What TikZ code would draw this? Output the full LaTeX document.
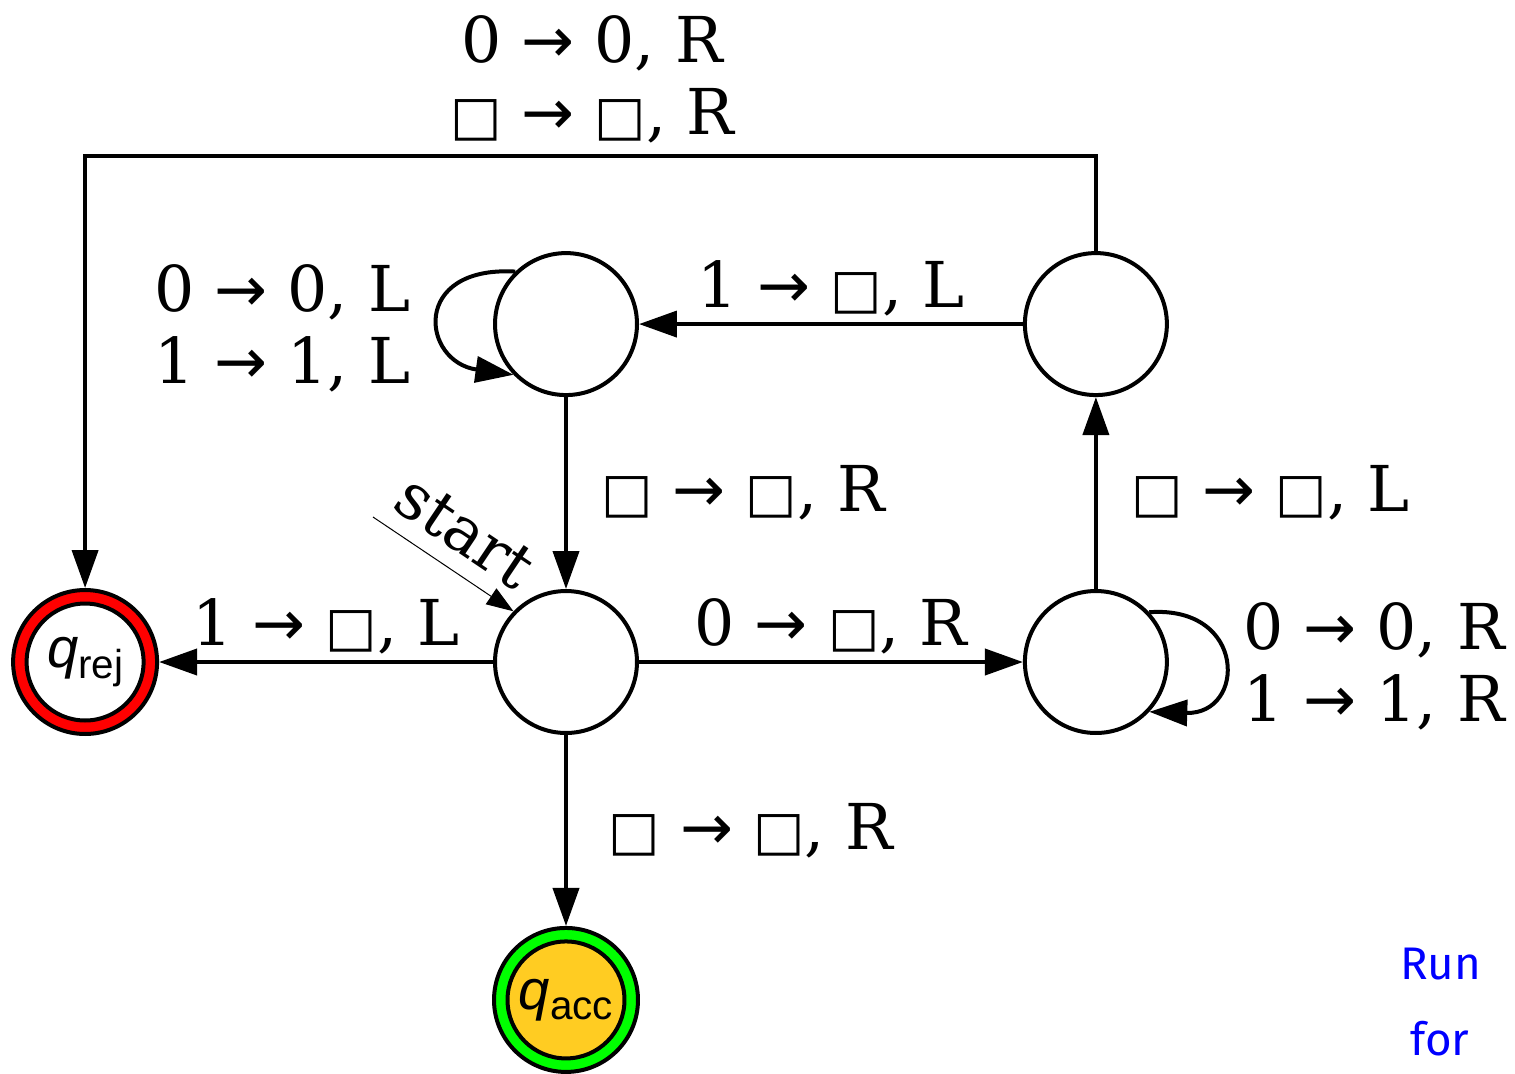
\documentclass[tikz,border=0pt]{standalone}
\usepackage{fontspec}
\setmainfont{DejaVu Serif}
\newfontfamily\arrfont{DejaVu Sans}
\newfontfamily\qfont{Liberation Sans}
\newfontfamily\runfont{Fira Sans}
\usetikzlibrary{arrows.meta,positioning}
\definecolor{rejred}{HTML}{FF0000}
\definecolor{accgreen}{HTML}{00FF00}
\definecolor{accgold}{HTML}{FFCC22}
\definecolor{runblue}{HTML}{0000FF}
\newcommand{\blk}{\scalebox{0.86}{\arrfont □}}
\newcommand{\goes}{{\arrfont →}}
\newcommand{\qsub}[1]{{\qfont\fontsize{32}{32}\selectfont\itshape q\raisebox{-0.35ex}{\upshape\fontsize{23}{23}\selectfont #1}}}

\begin{document}
\begin{tikzpicture}[x=0.02cm,y=-0.02cm,node distance=3.84cm and 7.68cm,every node/.style={font=\fontsize{36}{41}\selectfont,align=center},state/.style={circle,draw,line width=0.08cm,minimum size=2.84cm,inner sep=0pt},halt/.style={circle,draw,line width=0.08cm,minimum size=2.88cm,inner sep=0pt},core/.style={circle,draw,line width=0.08cm,minimum size=2.34cm,inner sep=0pt},move/.style={line width=0.08cm,-{Triangle[length=0.76cm,width=0.52cm]}},entry/.style={line width=0.02cm,-{Triangle[length=0.54cm,width=0.38cm]}}]
\useasboundingbox (0,0) rectangle (1515,1073);
\node[state] (S) at (566,662) {}; \node[state,right=of S] (B) {};
\node[state,above=of S] (T) {}; \node[state,above=of B] (U) {};
\node[halt,fill=accgreen,below=3.82cm of S] (A) {}; \node[core,fill=accgold] (Ai) at (A) {\qsub{acc}};
\node[halt,fill=rejred,left=6.68cm of S] (R) {}; \node[core,fill=white] (Ri) at (R) {\qsub{rej}};
\coordinate (ridge) at (592,156); \coordinate (entry) at (373,517);
\draw[move] (S) -- node[above] {0 \goes\ \blk, R} (B);
\draw[move] (S) -- node[above] {1 \goes\ \blk, L} (R);
\draw[move] (S) -- node[right=0.7cm] {\blk\ \goes\ \blk, R} (A);
\draw[move] (T) -- node[right=0.55cm] {\blk\ \goes\ \blk, R} (S);
\draw[move] (B) -- node[right=0.55cm] {\blk\ \goes\ \blk, L} (U);
\draw[move] (U) -- node[above] {1 \goes\ \blk, L} (T);
\draw[move] (U.north) |- (ridge) -| node[pos=0,above,yshift=0.1cm] {0 \goes\ 0, R\\\blk\ \goes\ \blk, R} (R.north);
\draw[move] (T.134) .. controls +(-105,-6) and +(-92,-13) .. node[left=0.45cm,yshift=-0.24cm] {0 \goes\ 0, L\\1 \goes\ 1, L} (T.224);
\draw[move] (B.43) .. controls +(98,-7) and +(97,3) .. node[right=0.26cm,yshift=-0.12cm] {0 \goes\ 0, R\\1 \goes\ 1, R} (B.-43);
\draw[entry] (entry) -- node[sloped,above=0.2cm] {start} (S.136);
\node[font=\runfont\fontsize{26}{43}\selectfont,text=runblue,align=left,anchor=north west] (note) at (1394,942) {Run\\\hspace{0.2cm}for};
\end{tikzpicture}
\end{document}
